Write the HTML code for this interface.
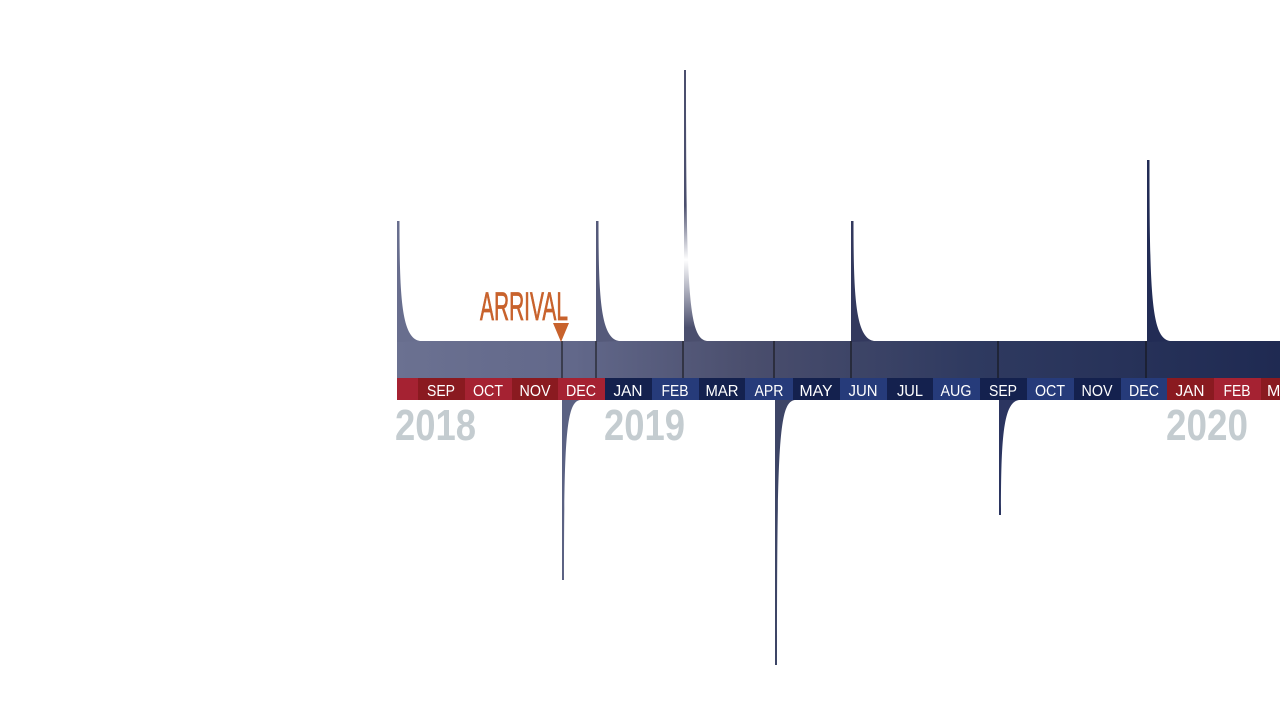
<!DOCTYPE html>
<html><head><meta charset="utf-8"><style>
html,body{margin:0;padding:0;background:#fff;width:1280px;height:720px;overflow:hidden}
svg{display:block}
</style></head><body>
<svg width="1280" height="720" viewBox="0 0 1280 720" xmlns="http://www.w3.org/2000/svg">
<defs>
<linearGradient id="band" x1="397" y1="0" x2="1280" y2="0" gradientUnits="userSpaceOnUse">
<stop offset="0" stop-color="#6b7191"/>
<stop offset="0.2" stop-color="#62688a"/>
<stop offset="0.4" stop-color="#4a4e6d"/>
<stop offset="0.65" stop-color="#2f3a60"/>
<stop offset="1" stop-color="#1f2a52"/>
</linearGradient>
<linearGradient id="fade" x1="0" y1="70" x2="0" y2="341" gradientUnits="userSpaceOnUse">
<stop offset="0" stop-color="#4b4f6e"/>
<stop offset="0.5" stop-color="#4b4f6e"/>
<stop offset="0.7" stop-color="#ffffff"/>
<stop offset="0.95" stop-color="#4b4f6e"/>
</linearGradient>
</defs>
<rect x="397" y="341" width="883" height="37" fill="url(#band)"/>
<path d="M397 342 V221 H399.5 C399.5 300,402 338,420 341 Z" fill="#686e8e"/>
<path d="M596 342 V221 H598.5 C598.5 300,601 338,619 341 Z" fill="#555a7a"/>
<path d="M684 342 V70 H686 C686 300,689 338,707 341 Z" fill="url(#fade)"/>
<path d="M851 342 V221 H853.5 C853.5 300,856 338,874 341 Z" fill="#33395e"/>
<path d="M1147 342 V160 H1149.5 C1149.5 300,1152 338,1170 341 Z" fill="#222c55"/>
<path d="M562 399 V580 H564 C564 440,566 402,580 400 Z" fill="#5b6283"/>
<path d="M775 399 V665 H777 C777 440,779 402,795 400 Z" fill="#3d4566"/>
<path d="M999 399 V515 H1001 C1001 440,1003 402,1019 400 Z" fill="#2b3560"/>
<g stroke="#111" stroke-width="1">
<line x1="562" y1="341" x2="562" y2="378"/>
<line x1="596" y1="341" x2="596" y2="378"/>
<line x1="683" y1="341" x2="683" y2="378"/>
<line x1="774" y1="341" x2="774" y2="378"/>
<line x1="851" y1="341" x2="851" y2="378"/>
<line x1="998" y1="341" x2="998" y2="378"/>
<line x1="1146" y1="341" x2="1146" y2="378"/>
</g>
<g>
<rect x="397" y="378" width="21" height="22" fill="#a52232"/>
<rect x="418" y="378" width="47" height="22" fill="#8a1a20"/>
<rect x="465" y="378" width="47" height="22" fill="#a52232"/>
<rect x="512" y="378" width="46" height="22" fill="#8a1a20"/>
<rect x="558" y="378" width="47" height="22" fill="#a52232"/>
<rect x="605" y="378" width="47" height="22" fill="#14214e"/>
<rect x="652" y="378" width="47" height="22" fill="#263b7a"/>
<rect x="699" y="378" width="46" height="22" fill="#14214e"/>
<rect x="745" y="378" width="48" height="22" fill="#263b7a"/>
<rect x="793" y="378" width="47" height="22" fill="#14214e"/>
<rect x="840" y="378" width="47" height="22" fill="#263b7a"/>
<rect x="887" y="378" width="46" height="22" fill="#14214e"/>
<rect x="933" y="378" width="47" height="22" fill="#263b7a"/>
<rect x="980" y="378" width="47" height="22" fill="#14214e"/>
<rect x="1027" y="378" width="47" height="22" fill="#263b7a"/>
<rect x="1074" y="378" width="47" height="22" fill="#14214e"/>
<rect x="1121" y="378" width="46" height="22" fill="#263b7a"/>
<rect x="1167" y="378" width="47" height="22" fill="#8a1a20"/>
<rect x="1214" y="378" width="47" height="22" fill="#a52232"/>
<rect x="1261" y="378" width="19" height="22" fill="#8a1a20"/>
</g>
<g font-family="'Liberation Sans Narrow','Liberation Sans',sans-serif" font-size="16" fill="#fff" text-anchor="middle" lengthAdjust="spacingAndGlyphs">
<text x="441" y="396" textLength="28" lengthAdjust="spacingAndGlyphs">SEP</text><text x="488" y="396" textLength="30" lengthAdjust="spacingAndGlyphs">OCT</text><text x="535" y="396" textLength="31" lengthAdjust="spacingAndGlyphs">NOV</text><text x="581" y="396" textLength="30" lengthAdjust="spacingAndGlyphs">DEC</text>
<text x="628" y="396" textLength="29" lengthAdjust="spacingAndGlyphs">JAN</text><text x="675" y="396" textLength="27" lengthAdjust="spacingAndGlyphs">FEB</text><text x="722" y="396" textLength="33" lengthAdjust="spacingAndGlyphs">MAR</text><text x="769" y="396" textLength="29" lengthAdjust="spacingAndGlyphs">APR</text>
<text x="816" y="396" textLength="33" lengthAdjust="spacingAndGlyphs">MAY</text><text x="863" y="396" textLength="29" lengthAdjust="spacingAndGlyphs">JUN</text><text x="910" y="396" textLength="26" lengthAdjust="spacingAndGlyphs">JUL</text><text x="956" y="396" textLength="31" lengthAdjust="spacingAndGlyphs">AUG</text>
<text x="1003" y="396" textLength="28" lengthAdjust="spacingAndGlyphs">SEP</text><text x="1050" y="396" textLength="30" lengthAdjust="spacingAndGlyphs">OCT</text><text x="1097" y="396" textLength="31" lengthAdjust="spacingAndGlyphs">NOV</text><text x="1144" y="396" textLength="30" lengthAdjust="spacingAndGlyphs">DEC</text>
<text x="1190" y="396" textLength="29" lengthAdjust="spacingAndGlyphs">JAN</text><text x="1237" y="396" textLength="27" lengthAdjust="spacingAndGlyphs">FEB</text><text x="1267" y="396" text-anchor="start">M</text>
</g>
<g font-family="'Liberation Sans Narrow','Liberation Sans',sans-serif" font-size="44" font-weight="bold" fill="#c4ccd0">
<text x="395" y="440" textLength="81" lengthAdjust="spacingAndGlyphs">2018</text>
<text x="604" y="440" textLength="81" lengthAdjust="spacingAndGlyphs">2019</text>
<text x="1166" y="440" textLength="82" lengthAdjust="spacingAndGlyphs">2020</text>
</g>
<text x="480" y="320" font-family="'Liberation Sans Narrow','Liberation Sans',sans-serif" font-size="40" fill="#c8622c" stroke="#c8622c" stroke-width="0.8" textLength="88" lengthAdjust="spacingAndGlyphs">ARRIVAL</text>
<polygon points="553,323 569,323 561,342" fill="#c8622c"/>
</svg>
</body></html>
